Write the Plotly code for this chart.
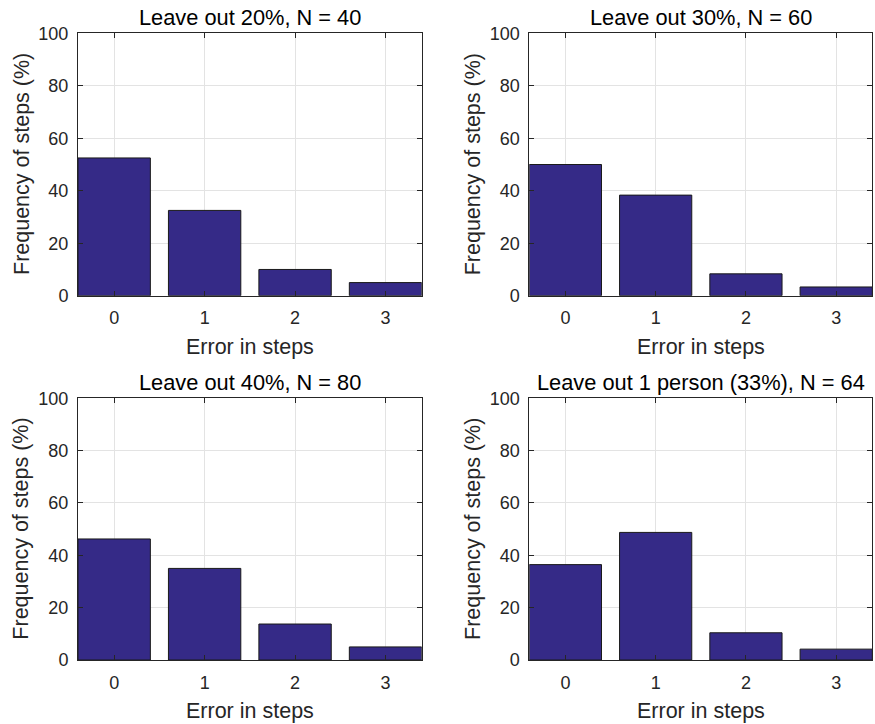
import plotly.graph_objects as go
from plotly.subplots import make_subplots

# Error histogram data (percent of steps per error size)
error_steps = [0, 1, 2, 3]
titles = [
    "Leave out 20%, N = 40",
    "Leave out 30%, N = 60",
    "Leave out 40%, N = 80",
    "Leave out 1 person (33%), N = 64",
]
freq_20 = [52.5, 32.5, 10.0, 5.0]
freq_30 = [50.0, 38.33, 8.33, 3.33]
freq_40 = [46.25, 35.0, 13.75, 5.0]
freq_person = [36.45, 48.75, 10.4, 4.15]
y_ticks = [0, 20, 40, 60, 80, 100]
x_label = "Error in steps"
y_label = "Frequency of steps (%)"

series = [freq_20, freq_30, freq_40, freq_person]

W, H = 875, 724
FONT = "Liberation Sans, Arial, Helvetica, sans-serif"
AX = "#262626"
GRID = "#e3e3e3"
BAR = "#352a87"

fig = make_subplots(rows=2, cols=2, horizontal_spacing=0.1, vertical_spacing=0.1)

# axis boxes in pixels: (left, right, top, bottom)
boxes = [
    (78, 421.7, 33.3, 295.7),
    (529.3, 872.3, 33.3, 295.7),
    (78, 421.7, 398.3, 660.0),
    (529.3, 872.3, 398.3, 660.0),
]

for i, vals in enumerate(series):
    r, c = i // 2 + 1, i % 2 + 1
    fig.add_trace(
        go.Bar(
            x=error_steps, y=vals,
            marker=dict(color=BAR, line=dict(color="#1a1a1a", width=1)),
            showlegend=False,
        ),
        row=r, col=c,
    )

annotations = []
for i, (l, rr, t, b) in enumerate(boxes):
    sfx = "" if i == 0 else str(i + 1)
    xd = [l / W, rr / W]
    yd = [1 - b / H, 1 - t / H]
    fig.layout["xaxis" + sfx].update(
        domain=xd, range=[-0.4, 3.4], tickvals=error_steps,
        ticktext=[str(v) for v in error_steps],
        showline=True, mirror="ticks", linecolor=AX, linewidth=1,
        ticks="inside", ticklen=5, tickcolor=AX, ticklabelstandoff=6,
        showgrid=True, gridcolor=GRID, gridwidth=1, zeroline=False,
        automargin=False,
        tickfont=dict(family=FONT, size=18, color=AX),
    )
    fig.layout["yaxis" + sfx].update(
        domain=yd, range=[0, 100], tickvals=y_ticks,
        showline=True, mirror="ticks", linecolor=AX, linewidth=1,
        ticks="inside", ticklen=5, tickcolor=AX, ticklabelstandoff=5,
        showgrid=True, gridcolor=GRID, gridwidth=1, zeroline=False,
        automargin=False,
        tickfont=dict(family=FONT, size=18, color=AX),
    )
    cx = (l + rr) / 2 / W
    annotations.append(dict(
        text=titles[i], xref="paper", yref="paper",
        x=cx, y=1 - (t - 16) / H,
        xanchor="center", yanchor="middle", showarrow=False,
        font=dict(family=FONT, size=21.8, color="#000000"),
    ))
    annotations.append(dict(
        text=x_label, xref="paper", yref="paper",
        x=cx, y=1 - (b + 51) / H,
        xanchor="center", yanchor="middle", showarrow=False,
        font=dict(family=FONT, size=21.5, color=AX),
    ))
    annotations.append(dict(
        text=y_label, xref="paper", yref="paper",
        x=(l - 56.5) / W, y=1 - (t + b) / 2 / H, textangle=-90,
        xanchor="center", yanchor="middle", showarrow=False,
        font=dict(family=FONT, size=21.5, color=AX),
    ))

fig.update_layout(
    width=W, height=H,
    margin=dict(l=0, r=0, t=0, b=0),
    paper_bgcolor="white", plot_bgcolor="white",
    bargap=0.2,
    annotations=annotations,
)

fig.write_html("out.html")
